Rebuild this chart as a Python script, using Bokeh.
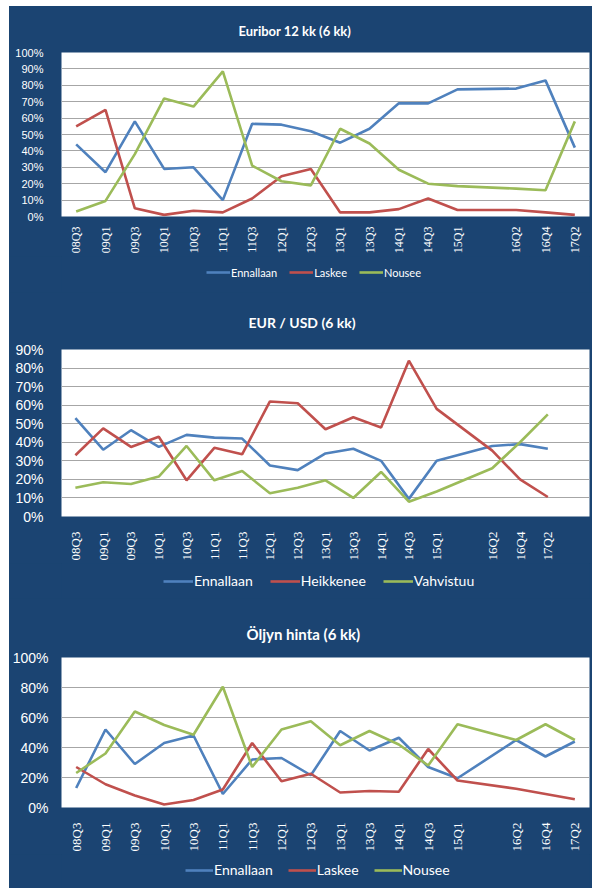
from math import pi
from bokeh.plotting import figure
from bokeh.models import (FixedTicker, PrintfTickFormatter, Legend, LegendItem,
                          Range1d)
from bokeh.layouts import column
from bokeh.embed import file_html
from bokeh.resources import INLINE

# ---------------- data ----------------
quarters = ["08Q3", "09Q1", "09Q3", "10Q1", "10Q3", "11Q1", "11Q3", "12Q1", "12Q3",
            "13Q1", "13Q3", "14Q1", "14Q3", "15Q1", "16Q2", "16Q4", "17Q2"]
# category slot of each quarter (one empty slot between 15Q1 and 16Q2)
slots = [0, 1, 2, 3, 4, 5, 6, 7, 8, 9, 10, 11, 12, 13, 15, 16, 17]

eur_ennallaan = [44, 27, 58, 29, 30, 10, 56.5, 56, 52, 45, 53.5, 69, 69, 77.5, 78, 83, 42]
eur_laskee = [55, 65, 5, 1, 3.5, 2.5, 11, 24.5, 29, 2.5, 2.5, 4.5, 11, 4, 4, 2.5, 1]
eur_nousee = [3, 9.5, 38, 72, 67, 88.5, 31, 21.5, 19, 53.5, 44.5, 28.5, 20, 18.5, 17, 16, 58]

usd_ennallaan = [53, 36, 46.5, 37.5, 44, 42.5, 42, 27.5, 25, 34, 36.5, 30, 9.5, 30, 38, 39, 36.5]
usd_heikkenee = [33, 47.5, 37.5, 43, 19.5, 37, 33.5, 62, 61, 47, 53.5, 48, 84, 58, 35.5, 20, 10.5]
usd_vahvistuu = [15.5, 18.5, 17.5, 21.5, 38, 19.5, 24.5, 12.5, 15.5, 19.5, 10, 24, 8, 13.5, 26, 40, 55]

oil_ennallaan = [13, 52, 29, 43, 48, 9, 32, 33, 21.5, 51, 38, 46.5, 27, 19.5, 45, 34, 44]
oil_laskee = [27, 15.5, 8, 2, 5, 12, 43, 17.5, 22.5, 10, 11, 10.5, 39, 18, 12.5, 9, 5.5]
oil_nousee = [23, 36, 64, 55, 48.5, 80.5, 27, 52, 57.5, 41.5, 51, 42, 28, 55.5, 45, 55.5, 45]

BLUE = "#4f81bd"
RED = "#c0504d"
GREEN = "#9bbb59"
COLORS = [BLUE, RED, GREEN]
BG = "#1b4472"
GRID = "#a6a6a6"
W = 583
ML = 49   # common left border (frames are aligned in the column)
MR = 3


def make_panel(title, series, ymax, ystep, xmax, h, mt, mb,
               title_size, title_offset, title_standoff, ylab_size, ylab_standoff,
               xlab_size, xlab_standoff):
    p = figure(width=W, height=h, output_backend="svg",
               toolbar_location=None, x_range=Range1d(-0.5, xmax),
               y_range=Range1d(0, ymax), min_border_left=ML, min_border_right=MR,
               min_border_top=mt, min_border_bottom=mb)
    p.border_fill_color = BG
    p.background_fill_color = "white"
    p.outline_line_color = None

    p.title.text = title
    p.title.align = "left"
    p.title.text_color = "white"
    p.title.text_font = "Lato"
    p.title.text_font_style = "bold"
    p.title.text_font_size = title_size
    p.title.offset = title_offset
    p.title.standoff = title_standoff

    p.xgrid.grid_line_color = None
    p.ygrid.grid_line_color = GRID
    p.ygrid.grid_line_width = 1.2
    p.ygrid.ticker = FixedTicker(ticks=list(range(0, ymax + 1, ystep)))

    ya = p.yaxis[0]
    ya.ticker = FixedTicker(ticks=list(range(0, ymax + 1, ystep)))
    ya.formatter = PrintfTickFormatter(format="%d%%")
    ya.axis_line_color = None
    ya.major_tick_line_color = None
    ya.minor_tick_line_color = None
    ya.major_label_text_color = "white"
    ya.major_label_text_font = "Liberation Sans"
    ya.major_label_text_font_size = ylab_size
    ya.major_label_standoff = ylab_standoff

    xa = p.xaxis[0]
    xa.ticker = FixedTicker(ticks=slots)
    xa.major_label_overrides = {s: q for s, q in zip(slots, quarters)}
    xa.major_label_orientation = pi / 2
    xa.axis_line_color = None
    xa.major_tick_line_color = None
    xa.minor_tick_line_color = None
    xa.major_label_text_color = "white"
    xa.major_label_text_font = "Liberation Serif"
    xa.major_label_text_font_size = xlab_size
    xa.major_label_standoff = xlab_standoff

    for ys, col in zip(series, COLORS):
        p.line(slots, ys, line_color=col, line_width=2.6)
    return p


def make_legend(names, series, h, loc, size, glyph_w, gh, spacing):
    lf = figure(width=W, height=h, output_backend="svg", toolbar_location=None,
                x_axis_type=None, y_axis_type=None, title=None,
                min_border_left=ML, min_border_right=MR,
                min_border_top=0, min_border_bottom=0,
                x_range=Range1d(0, 1), y_range=Range1d(0, 1))
    lf.border_fill_color = BG
    lf.background_fill_color = BG
    lf.outline_line_color = None
    items = []
    for name, ys, col in zip(names, series, COLORS):
        r = lf.line(slots, ys, line_color=col, line_width=2.6, visible=False)
        items.append(LegendItem(label=name, renderers=[r]))
    leg = Legend(items=items, orientation="horizontal", location=loc,
                 background_fill_alpha=0, border_line_alpha=0,
                 label_text_color="white", label_text_font="Lato",
                 label_text_font_size=size, glyph_width=glyph_w,
                 glyph_height=gh, label_standoff=1, spacing=spacing,
                 padding=0, margin=0, label_height=gh)
    lf.add_layout(leg, "center")
    return lf


eur = [eur_ennallaan, eur_laskee, eur_nousee]
usd = [usd_ennallaan, usd_heikkenee, usd_vahvistuu]
oil = [oil_ennallaan, oil_laskee, oil_nousee]

p1 = make_panel("Euribor 12 kk (6 kk)", eur, 100, 10, 17.5, 250, 45, 35,
                "13px", 177, 28, "11px", 12, "12px", 4)
l1 = make_legend(["Ennallaan", "Laskee", "Nousee"], eur, 36, (145, 13), "11px", 24, 14, 12)

p2 = make_panel("EUR / USD (6 kk)", usd, 90, 10, 18.5, 271, 53, 45,
                "14px", 187, 38, "14px", 12, "13px", 9)
l2 = make_legend(["Ennallaan", "Heikkenee", "Vahvistuu"], usd, 35, (102, 9), "14px", 30, 16, 17)

p3 = make_panel("Öljyn hinta (6 kk)", oil, 100, 20, 17.5, 256, 59, 45,
                "15px", 185, 30, "14px", 7, "13px", 9)
l3 = make_legend(["Ennallaan", "Laskee", "Nousee"], oil, 34, (124, 10), "14px", 28, 16, 15)

layout = column(p1, l1, p2, l2, p3, l3, spacing=0,
                styles={"background-color": BG, "margin-left": "9px",
                        "margin-top": "6px"})
open("out.html", "w").write(file_html(layout, INLINE))
